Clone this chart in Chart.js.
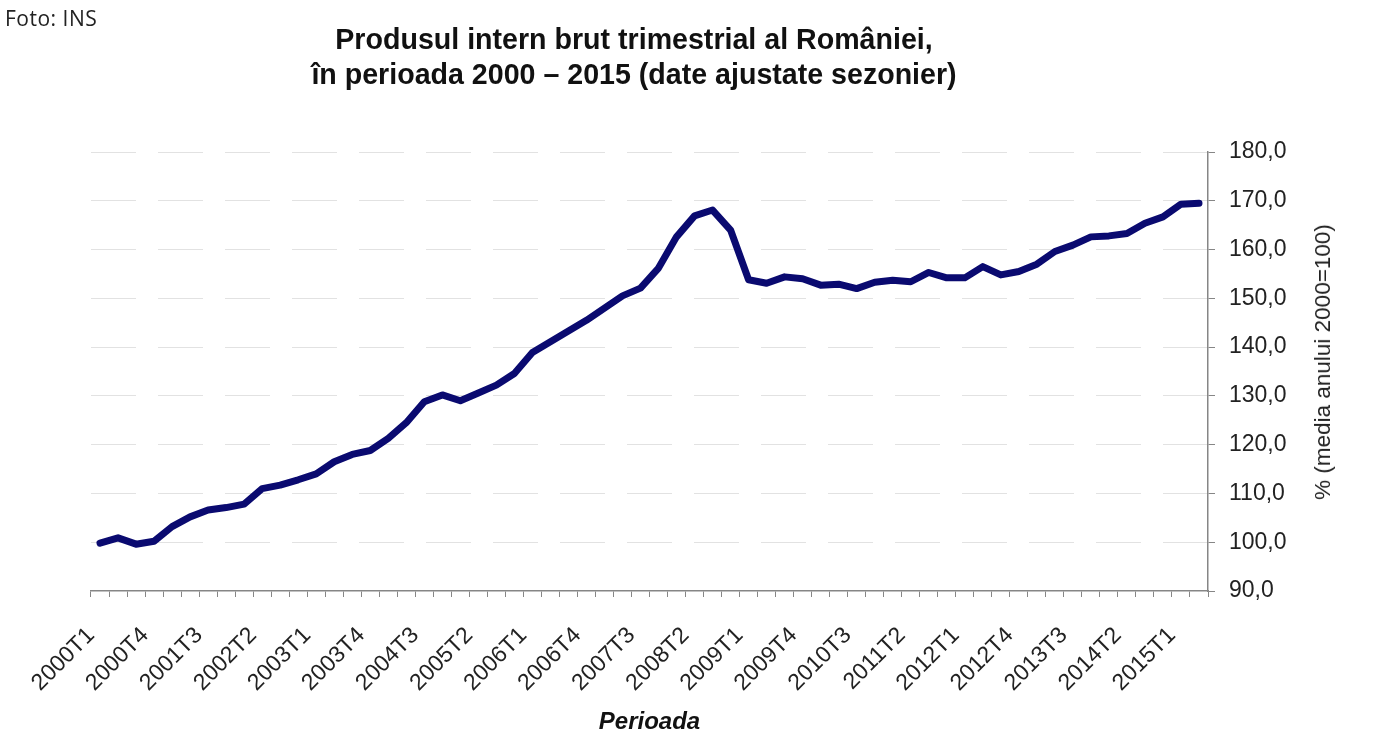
<!DOCTYPE html>
<html><head><meta charset="utf-8">
<script src="https://cdn.jsdelivr.net/npm/chart.js@4.4.1/dist/chart.umd.min.js"></script>
<style>
html,body{margin:0;padding:0;background:#fff;}
#wrap{position:relative;width:1373px;height:750px;overflow:hidden;}
#foto{position:absolute;left:5px;top:4px;font:21px "Open Sans",sans-serif;letter-spacing:0.5px;color:#222;}
#title{position:absolute;left:0;top:22px;width:1268px;text-align:center;font:bold 28.6px "Liberation Sans",Arial,sans-serif;line-height:35px;color:#111;}
#ytitle{position:absolute;left:1323px;top:362px;transform:translate(-50%,-50%) rotate(-90deg);white-space:nowrap;font:22.5px "Liberation Sans",Arial,sans-serif;color:#222;}
</style></head>
<body><div id="wrap"><canvas id="c" width="1373" height="750"></canvas>
<div id="foto">Foto: INS</div>
<div id="title">Produsul intern brut trimestrial al României,<br>în perioada 2000 – 2015 (date ajustate sezonier)</div>
<div id="ytitle">% (media anului 2000=100)</div></div>
<script>
const categories = [
  '2000T1','2000T2','2000T3','2000T4','2001T1','2001T2','2001T3','2001T4',
  '2002T1','2002T2','2002T3','2002T4','2003T1','2003T2','2003T3','2003T4',
  '2004T1','2004T2','2004T3','2004T4','2005T1','2005T2','2005T3','2005T4',
  '2006T1','2006T2','2006T3','2006T4','2007T1','2007T2','2007T3','2007T4',
  '2008T1','2008T2','2008T3','2008T4','2009T1','2009T2','2009T3','2009T4',
  '2010T1','2010T2','2010T3','2010T4','2011T1','2011T2','2011T3','2011T4',
  '2012T1','2012T2','2012T3','2012T4','2013T1','2013T2','2013T3','2013T4',
  '2014T1','2014T2','2014T3','2014T4','2015T1','2015T2'
];
const gdpIndex = [
  99.8,100.9,99.6,100.2,103.2,105.2,106.6,107.1,
  107.8,111.0,111.7,112.8,114.0,116.5,118.0,118.8,
  121.3,124.5,128.8,130.2,129.0,130.6,132.2,134.6,
  138.9,141.1,143.3,145.5,148.0,150.5,152.1,156.2,
  162.6,166.9,168.1,164.0,153.8,153.1,154.4,154.0,
  152.7,152.9,152.0,153.3,153.7,153.4,155.3,154.2,
  154.2,156.5,154.8,155.5,157.0,159.6,160.9,162.6,
  162.8,163.3,165.4,166.7,169.3,169.5
];
const shownTickLabels = [
  '2000T1','2000T4','2001T3','2002T2','2003T1','2003T4','2004T3','2005T2',
  '2006T1','2006T4','2007T3','2008T2','2009T1','2009T4','2010T3','2011T2',
  '2012T1','2012T4','2013T3','2014T2','2015T1'
];
const yMin = 90, yMax = 180, yStep = 10;

const axisGrey = '#868686';
new Chart(document.getElementById('c'), {
  type: 'line',
  data: {
    labels: categories,
    datasets: [{
      data: gdpIndex,
      borderColor: '#0a0a70',
      borderWidth: 7,
      pointRadius: 0,
      tension: 0,
      borderJoinStyle: 'round',
      borderCapStyle: 'round',
      fill: false
    }]
  },
  options: {
    responsive: false,
    animation: false,
    layout: { padding: { left: 91, right: 0, top: 152, bottom: 0 } },
    plugins: { legend: { display: false }, tooltip: { enabled: false } },
    scales: {
      x: {
        type: 'category',
        offset: true,
        grid: { display: true, drawOnChartArea: false, drawTicks: true, tickLength: 6, offset: true, color: axisGrey, tickColor: axisGrey, tickWidth: 1 },
        border: { display: true, color: axisGrey, width: 1.5 },
        ticks: {
          autoSkip: false, minRotation: 45, maxRotation: 45, padding: 25, labelOffset: -9,
          color: '#222', font: { family: 'Liberation Sans', size: 23 },
          callback: function (v) { const l = this.getLabelForValue(v); return shownTickLabels.includes(l) ? l : ''; }
        },
        title: { display: true, text: 'Perioada', color: '#111', font: { family: 'Liberation Sans', size: 24, weight: 'bold', style: 'italic' }, padding: { top: 0, bottom: 13 } },
        afterFit: s => { s.height = 159; }
      },
      y: {
        position: 'right',
        min: yMin, max: yMax,
        ticks: { stepSize: yStep, padding: 14, color: '#222', font: { family: 'Liberation Sans', size: 23 }, callback: v => v.toFixed(1).replace('.', ',') },
        grid: { color: c => (c.tick && c.tick.value === yMin) ? 'rgba(0,0,0,0)' : '#e2e2e2', lineWidth: 1, drawTicks: true, tickLength: 7, tickColor: axisGrey },
        border: { display: true, color: axisGrey, width: 1.5, dash: [45, 22] },
        afterFit: s => { s.width = 165; }
      }
    }
  }
});
</script>
</body></html>
